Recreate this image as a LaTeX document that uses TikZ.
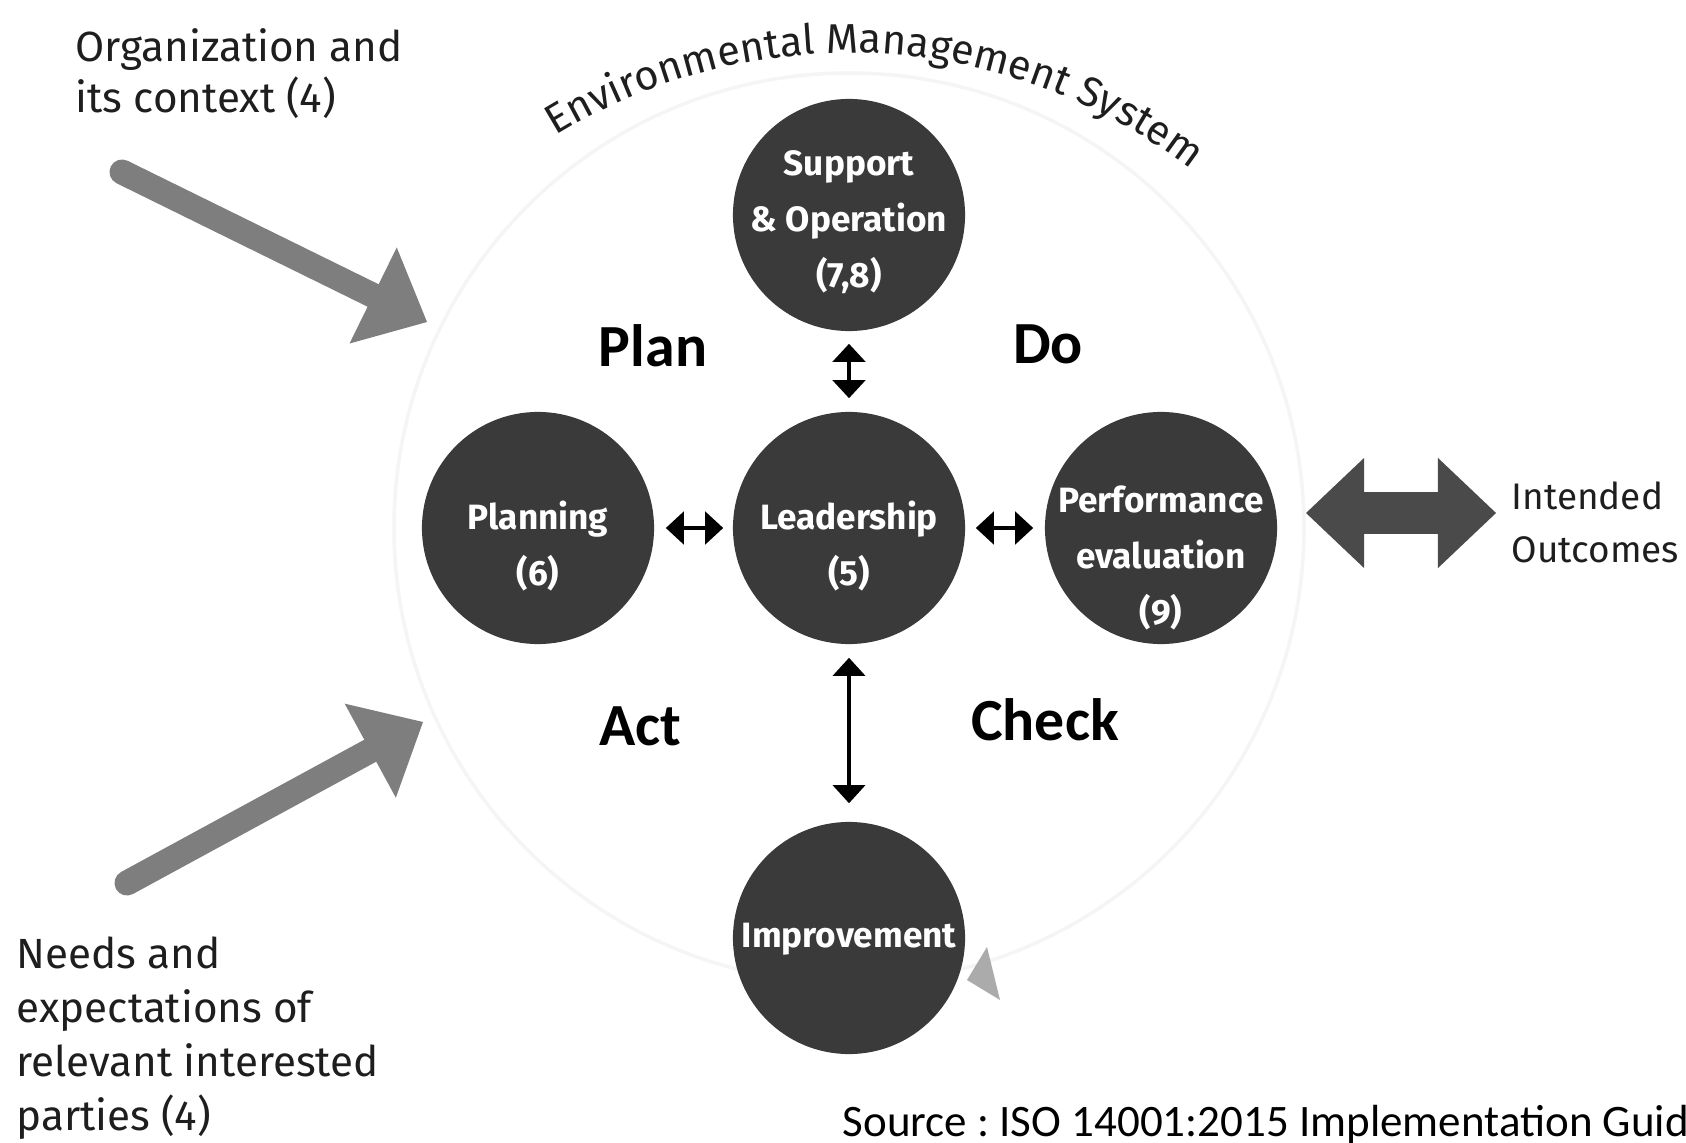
\documentclass[tikz,border=0pt]{standalone}
\usepackage{fontspec}
\setmainfont{Fira Sans}
\newfontfamily\calib{Carlito}
\usepackage{tikz}
\usetikzlibrary{arrows.meta,decorations.text,positioning}
\definecolor{discgray}{HTML}{3A3A3A}
\definecolor{fatgray}{HTML}{7E7E7E}
\definecolor{dblgray}{HTML}{4A4A4A}
\definecolor{tipgray}{HTML}{ABABAB}
\definecolor{inkgray}{HTML}{1E1E1E}

\begin{document}
\begin{tikzpicture}[x=0.01cm, y=0.01cm,
	disc/.style={circle, fill=discgray, minimum size=2.32cm, inner sep=0pt},
	disctext/.style={align=center, text=white, font=\fontsize{10}{16}\selectfont\bfseries},
	pdca/.style={text=black, font=\calib\fontsize{17}{20}\selectfont\bfseries},
	note/.style={align=left, anchor=west, inner sep=0pt, text=inkgray},
	link/.style={{Triangle[length=0.18cm, width=0.32cm]}-{Triangle[length=0.18cm, width=0.32cm]}, line width=1.4pt, shorten <=0.11cm, shorten >=0.11cm},
	fat/.style={-{Triangle[length=0.6cm, width=1.07cm, line width=0pt]}, line width=0.25cm, line cap=round, draw=fatgray}]

	\useasboundingbox (0,0) rectangle (1686,1142);

	\coordinate (ems) at (849,529);
	\draw[black!4, line width=1pt] (849,614) circle[radius=455];
	\path[decorate, decoration={text along path, text align=center, text={|\fontsize{11.8}{14}\selectfont\color{inkgray}|Environmental Management System}}] (ems) ++(133:560) arc[start angle=133, end angle=41, radius=560];

	\node[disc] (sup) at (849,927) {};
	\node[disc] (lead) at (849,614) {};
	\node[disc] (plan) at (538,614) {};
	\node[disc] (perf) at (1161,614) {};
	\node[disc] (impr) at (849,204) {};

	\node[disctext] (supt) at (849,920) {Support\\\& Operation\\(7,8)};
	\node[disctext] (leadt) at (849,596) {Leadership\\(5)};
	\node[disctext] (plant) at (538,596) {Planning\\(6)};
	\node[disctext] (perft) at (1161,584) {Performance\\evaluation\\(9)};
	\node[disctext] (imprt) at (849,203) {Improvement};

	\draw[link, shorten <=0.12cm, shorten >=0.13cm] (sup) -- (lead);
	\draw[link, shorten <=0.11cm, shorten >=0.09cm] (plan) -- (lead);
	\draw[link, shorten <=0.10cm, shorten >=0.11cm] (lead) -- (perf);
	\draw[link, line width=0.9pt, shorten <=0.13cm, shorten >=0.18cm] (lead) -- (impr);

	\fill[tipgray] (987,195) -- (967,162) -- (1000,142) -- cycle;

	\node[pdca] (pl) at (653,796) {Plan};
	\node[pdca] (do) at (1048,798) {Do};
	\node[pdca] (ac) at (640,416) {Act};
	\node[pdca] (ch) at (1045,422) {Check};

	\coordinate (ctx0) at (122,970);
	\coordinate (ctx1) at (427,820);
	\draw[fat] (ctx0) -- (ctx1);
	\coordinate (nds0) at (127,259);
	\coordinate (nds1) at (423,420);
	\draw[fat] (nds0) -- (nds1);

	\coordinate (io0) at (1306,629);
	\coordinate (io1) at (1496,629);
	\draw[{Triangle[length=0.58cm, width=1.10cm, line width=0pt]}-{Triangle[length=0.58cm, width=1.10cm, line width=0pt]}, line width=0.42cm, draw=dblgray] (io0) -- (io1);

	\node[note, font=\fontsize{12}{14.5}\selectfont] (ctx) at (75,1068) {Organization and\\its context (4)};
	\node[note, font=\fontsize{12}{15.4}\selectfont] (nds) at (16,104) {Needs and\\expectations of\\relevant interested\\parties (4)};
	\node[note, font=\fontsize{10.5}{15}\selectfont] (io) at (1511,620) {Intended\\Outcomes};
	\node[note, text=black, font=\calib\fontsize{12.8}{15}\selectfont\frenchspacing] (src) at (842,18) {Source : ISO 14001:2015 Implementation Guide};

\end{tikzpicture}
\end{document}
